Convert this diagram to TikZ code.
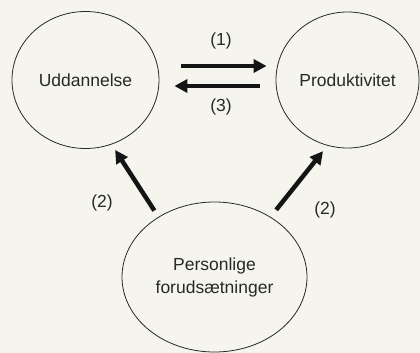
\documentclass[tikz,border=0pt]{standalone}
\usepackage{fontspec}
\setmainfont{Liberation Sans}
\usetikzlibrary{shapes.geometric,arrows.meta}
\definecolor{bg}{RGB}{245,245,237}
\definecolor{ink}{RGB}{40,40,40}
\definecolor{arrowink}{RGB}{20,20,20}
\tikzset{
  oval/.style={ellipse, draw=ink, line width=0.8pt, inner sep=0pt, text=ink,
    font=\fontsize{17.5}{23}\selectfont, align=center},
  bigarrow/.style={draw=arrowink, line width=4.5pt,
    -{Triangle[length=13pt,width=13pt]}},
  lbl/.style={text=ink, font=\fontsize{17.5}{23}\selectfont, inner sep=0pt}
}
\begin{document}
\begin{tikzpicture}[x=1pt,y=-1pt]
\fill[bg] (0,0) rectangle (420,353);
\useasboundingbox (0,0) rectangle (420,353);
\node[oval, minimum width=147pt, minimum height=137pt] (ud) at (85.5,80) {Uddannelse};
\node[oval, minimum width=143pt, minimum height=136pt] (pr) at (347.5,80) {Produktivitet};
\node[oval, minimum width=185pt, minimum height=150pt] (pf) at (214.5,277) {Personlige\\forudsætninger};
\draw[bigarrow, shorten <=22pt, shorten >=9pt] ([yshift=14pt]ud.east) -- ([yshift=14pt]pr.west);
\draw[bigarrow, shorten <=16pt, shorten >=15pt] ([yshift=-6pt]pr.west) -- ([yshift=-6pt]ud.east);
\draw[bigarrow, shorten <=7.5pt, shorten >=6.5pt] (pf.133.9) -- (ud.-68.7);
\draw[bigarrow, shorten <=9pt, shorten >=7pt] (pf.47.5) -- (pr.-107.4);
\node[lbl] (l1) at (221,41) {(1)};
\node[lbl] (l3) at (221,107) {(3)};
\node[lbl] (l2a) at (102,203) {(2)};
\node[lbl] (l2b) at (325,210) {(2)};
\end{tikzpicture}
\end{document}
